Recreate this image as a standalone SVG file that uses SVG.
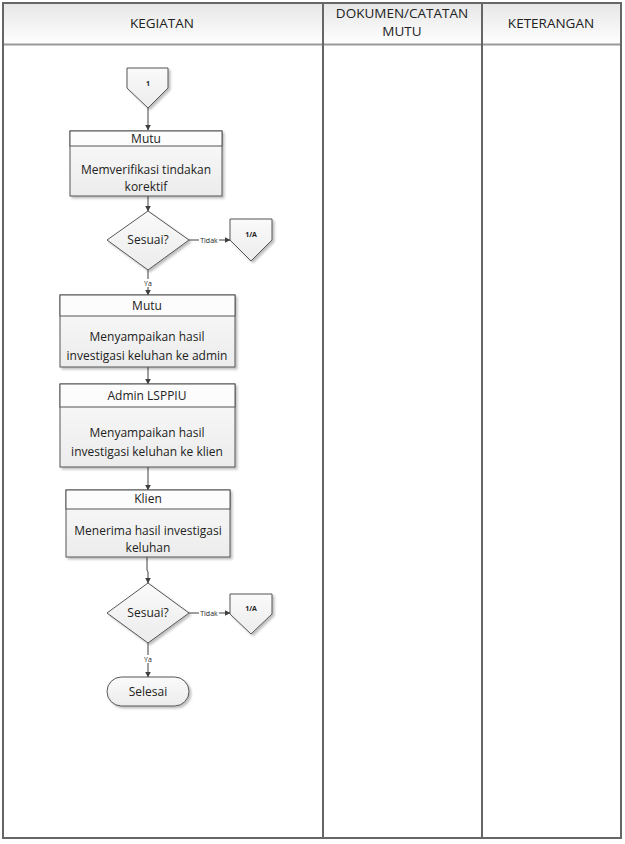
<svg xmlns="http://www.w3.org/2000/svg" width="625" height="844" viewBox="0 0 625 844">
<defs>
<linearGradient id="hdr" x1="0" y1="0" x2="0" y2="1"><stop offset="0" stop-color="#e6e6e6"/><stop offset="1" stop-color="#ffffff"/></linearGradient>
<linearGradient id="body" x1="0" y1="0" x2="0" y2="1"><stop offset="0" stop-color="#fafafa"/><stop offset="1" stop-color="#ececec"/></linearGradient>
<marker id="arr" viewBox="0 0 10 10" refX="9" refY="5" markerWidth="6" markerHeight="6" orient="auto"><path d="M0,0 L10,5 L0,10 z" fill="#404040"/></marker>
<filter id="sh" x="-10%" y="-10%" width="130%" height="130%"><feDropShadow dx="2" dy="2" stdDeviation="1" flood-color="#000" flood-opacity="0.25"/></filter>
</defs>
<style>
.t{font-family:"Open Sans","Liberation Sans",sans-serif;fill:#222;text-anchor:middle}
.h{font-size:13.5px}
.b{font-size:12px}
.s{font-size:7px;font-weight:bold}
.shape{fill:url(#body);stroke:#555;stroke-width:1;filter:url(#sh)}
.band{fill:#fcfcfc;stroke:#555;stroke-width:1}
.ln{stroke:#404040;stroke-width:1;fill:none}
.grid{stroke:#666;stroke-width:2;fill:none}
</style>
<g id="table">
<rect x="2" y="2" width="620" height="43" fill="url(#hdr)"/>
<line x1="2" y1="44.5" x2="622" y2="44.5" stroke="#999" stroke-width="2"/>
<rect x="3" y="3" width="618" height="835" class="grid"/>
<line x1="323" y1="3" x2="323" y2="838" class="grid"/>
<line x1="482" y1="3" x2="482" y2="838" class="grid"/>
<text class="t h" x="162" y="28">KEGIATAN</text>
<text class="t h" x="402" y="18">DOKUMEN/CATATAN</text>
<text class="t h" x="402" y="36">MUTU</text>
<text class="t h" x="551" y="28">KETERANGAN</text>
</g>
<g id="connectors">
<line x1="148" y1="108" x2="148" y2="130" class="ln" marker-end="url(#arr)"/>
<line x1="148" y1="196" x2="148" y2="211" class="ln" marker-end="url(#arr)"/>
<line x1="189" y1="240" x2="230" y2="240" class="ln" marker-end="url(#arr)"/>
<rect x="199" y="236" width="20" height="8" fill="#fff"/>
<text class="t s" x="209" y="243" style="font-weight:normal">Tidak</text>
<line x1="148" y1="270" x2="148" y2="295" class="ln" marker-end="url(#arr)"/>
<rect x="142" y="279" width="12" height="8" fill="#fff"/>
<text class="t s" x="148" y="286" style="font-weight:normal">Ya</text>
<line x1="148" y1="367" x2="148" y2="384" class="ln" marker-end="url(#arr)"/>
<line x1="148" y1="467" x2="148" y2="490" class="ln" marker-end="url(#arr)"/>
<polyline points="147,557 147,570 148,572 148,583" class="ln" marker-end="url(#arr)"/>
<line x1="189" y1="613" x2="230" y2="613" class="ln" marker-end="url(#arr)"/>
<rect x="199" y="609" width="20" height="8" fill="#fff"/>
<text class="t s" x="209" y="616" style="font-weight:normal">Tidak</text>
<line x1="148" y1="643" x2="148" y2="677" class="ln" marker-end="url(#arr)"/>
<rect x="142" y="655" width="12" height="8" fill="#fff"/>
<text class="t s" x="148" y="662" style="font-weight:normal">Ya</text>
</g>
<g id="n1">
<path d="M127,68 H168 V88 L148,108 L127,88 Z" class="shape"/>
<text class="t s" x="148" y="86">1</text>
</g>
<g id="n2">
<rect x="70" y="131" width="152" height="65" class="shape"/>
<rect x="70" y="131" width="152" height="15" class="band"/>
<text class="t b" x="146" y="143">Mutu</text>
<text class="t b" x="146" y="174">Memverifikasi tindakan</text>
<text class="t b" x="146" y="191">korektif</text>
</g>
<g id="n3">
<path d="M148,211 L189,240 L148,270 L107,240 Z" class="shape"/>
<text class="t b" x="148" y="244">Sesuai?</text>
</g>
<g id="n4">
<path d="M230,219 H272 V240 L251,261 L230,240 Z" class="shape"/>
<text class="t s" x="251" y="237">1/A</text>
</g>
<g id="n5">
<rect x="60" y="295" width="175" height="72" class="shape"/>
<rect x="60" y="295" width="175" height="21" class="band"/>
<text class="t b" x="147" y="310">Mutu</text>
<text class="t b" x="147" y="341">Menyampaikan hasil</text>
<text class="t b" x="147" y="360">investigasi keluhan ke admin</text>
</g>
<g id="n6">
<rect x="60" y="384" width="175" height="83" class="shape"/>
<rect x="60" y="384" width="175" height="23" class="band"/>
<text class="t b" x="147" y="400">Admin LSPPIU</text>
<text class="t b" x="147" y="437">Menyampaikan hasil</text>
<text class="t b" x="147" y="456">investigasi keluhan ke klien</text>
</g>
<g id="n7">
<rect x="66" y="490" width="164" height="67" class="shape"/>
<rect x="66" y="490" width="164" height="19" class="band"/>
<text class="t b" x="148" y="503">Klien</text>
<text class="t b" x="148" y="535">Menerima hasil investigasi</text>
<text class="t b" x="148" y="552">keluhan</text>
</g>
<g id="n8">
<path d="M148,583 L189,613 L148,643 L107,613 Z" class="shape"/>
<text class="t b" x="148" y="617">Sesuai?</text>
</g>
<g id="n9">
<path d="M230,594 H272 V614 L251,634 L230,614 Z" class="shape"/>
<text class="t s" x="251" y="611">1/A</text>
</g>
<g id="n10">
<rect x="107" y="677" width="82" height="29" rx="14.5" class="shape"/>
<text class="t b" x="148" y="696">Selesai</text>
</g>
</svg>
